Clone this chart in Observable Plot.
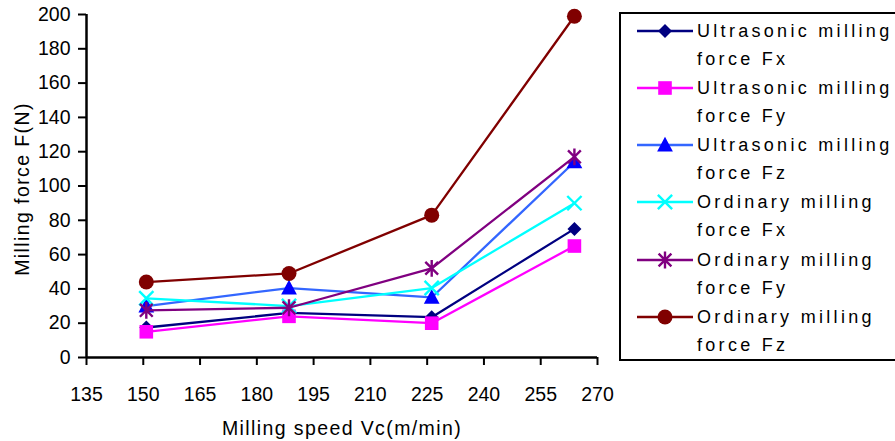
<!DOCTYPE html>
<html>
<head>
<meta charset="utf-8">
<script src="https://cdn.jsdelivr.net/npm/d3@7"></script>
<script src="https://cdn.jsdelivr.net/npm/@observablehq/plot@0.6"></script>
<style>
  html, body { margin: 0; padding: 0; background: #fff; overflow: hidden; }
  #wrap { position: relative; width: 895px; height: 441px; overflow: hidden; font-family: "Liberation Sans", Arial, sans-serif; }
  #legend { position: absolute; left: 619px; top: 12px; width: 300px; height: 345px; border: 2px solid #000; background: #fff; }
  .lg-sw { position: absolute; }
  .lg-tx { position: absolute; font-size: 18px; line-height: 28px; letter-spacing: 3.3px; color: #000; white-space: nowrap; }
</style>
</head>
<body>
<div id="wrap"><div id="chart"></div><div id="legend"></div></div>
<script>
// ---- data ----
const speeds = [150.8, 188.5, 226.2, 263.9];          // Milling speed Vc (m/min)
const ultrasonicFx = [17.5, 26, 23.5, 75];
const ultrasonicFy = [15, 24, 20, 65];
const ultrasonicFz = [30, 40.5, 35, 114];
const ordinaryFx   = [34.5, 30, 40.5, 90];
const ordinaryFy   = [27.5, 29, 52, 117];
const ordinaryFz   = [44, 49, 83, 199];
const seriesNames = [
  "Ultrasonic milling force Fx",
  "Ultrasonic milling force Fy",
  "Ultrasonic milling force Fz",
  "Ordinary milling force Fx",
  "Ordinary milling force Fy",
  "Ordinary milling force Fz"
];
const seriesValues = [ultrasonicFx, ultrasonicFy, ultrasonicFz, ordinaryFx, ordinaryFy, ordinaryFz];
const xTicks = [135, 150, 165, 180, 195, 210, 225, 240, 255, 270];
const yTicks = [0, 20, 40, 60, 80, 100, 120, 140, 160, 180, 200];
const xTitle = "Milling speed Vc(m/min)";
const yTitle = "Milling force F(N)";

// ---- styles ----
const sym = (f) => ({draw(ctx, size) { f(ctx, Math.sqrt(size / Math.PI)); }});
const symbols = {
  diamond: sym((c, r) => { c.moveTo(0, -r); c.lineTo(r, 0); c.lineTo(0, r); c.lineTo(-r, 0); c.closePath(); }),
  square: sym((c, r) => { c.moveTo(-r, -r); c.lineTo(r, -r); c.lineTo(r, r); c.lineTo(-r, r); c.closePath(); }),
  triangle: sym((c, r) => { c.moveTo(0, -r * 1.1); c.lineTo(r * 1.05, r * 0.85); c.lineTo(-r * 1.05, r * 0.85); c.closePath(); }),
  times: sym((c, r) => { const a = r * 0.95; c.moveTo(-a, -a); c.lineTo(a, a); c.moveTo(a, -a); c.lineTo(-a, a); }),
  asterisk: sym((c, r) => { const a = r * 0.8; c.moveTo(0, -r * 1.05); c.lineTo(0, r * 1.05); c.moveTo(-a, -a); c.lineTo(a, a); c.moveTo(a, -a); c.lineTo(-a, a); }),
  circle: sym((c, r) => { c.moveTo(r, 0); c.arc(0, 0, r, 0, 2 * Math.PI); c.closePath(); })
};
const styles = [
  {line: "#000080", mark: "#000080", symbol: "diamond", filled: true, r: 7},
  {line: "#FF00FF", mark: "#FF00FF", symbol: "square", filled: true, r: 6.8},
  {line: "#3366FF", mark: "#0000FF", symbol: "triangle", filled: true, r: 7.5},
  {line: "#00FFFF", mark: "#00FFFF", symbol: "times", filled: false, r: 7.5},
  {line: "#800080", mark: "#800080", symbol: "asterisk", filled: false, r: 8},
  {line: "#800000", mark: "#800000", symbol: "circle", filled: true, r: 7.5}
];

const rows = [];
seriesValues.forEach((vals, i) => vals.forEach((v, j) => rows.push({series: seriesNames[i], idx: i, x: speeds[j], y: v})));

const marks = [];
seriesNames.forEach((name, i) => {
  const d = rows.filter(r => r.idx === i);
  const st = styles[i];
  marks.push(Plot.line(d, {x: "x", y: "y", stroke: st.line, strokeWidth: 2.3}));
  marks.push(Plot.dot(d, st.filled
    ? {x: "x", y: "y", symbol: symbols[st.symbol], r: st.r, fill: st.mark, stroke: "none"}
    : {x: "x", y: "y", symbol: symbols[st.symbol], r: st.r, fill: "none", stroke: st.mark, strokeWidth: 2.4}));
});

const chart = Plot.plot({
  width: 895,
  height: 441,
  marginLeft: 86,
  marginRight: 298,
  marginTop: 14,
  marginBottom: 84,
  style: {fontFamily: "'Liberation Sans', Arial, sans-serif", fontSize: "19.5px", color: "#000", background: "#fff"},
  x: {domain: [135, 270]},
  y: {domain: [0, 200]},
  marks: [
    Plot.axisX({ticks: xTicks, tickSize: 8, tickPadding: 22, strokeWidth: 2, label: null, fontSize: 19.5}),
    Plot.axisY({ticks: yTicks, tickSize: 8, tickPadding: 8, strokeWidth: 2, label: null, fontSize: 19.5}),
    Plot.ruleY([0], {stroke: "#000", strokeWidth: 2.5}),
    Plot.ruleX([135], {stroke: "#000", strokeWidth: 2.5}),
    ...marks,
    Plot.text([xTitle], {frameAnchor: "bottom", dy: 77, textAnchor: "middle", fontSize: 19.5, fill: "#000"}),
    Plot.text([yTitle], {frameAnchor: "left", dx: -64, dy: 3, rotate: -90, textAnchor: "middle", fontSize: 19.5, fill: "#000"})
  ]
});
document.getElementById("chart").appendChild(chart);
// widen title letter spacing like the reference's font
d3.select(chart).selectAll("text").filter(function() { return this.textContent === xTitle || this.textContent === yTitle; })
  .style("letter-spacing", "1.4px");

// ---- legend ----
const legend = document.getElementById("legend");
const rowY = [17, 74, 131, 188, 246, 303]; // row centre, relative to legend box top (inner)
seriesNames.forEach((name, i) => {
  const st = styles[i];
  const p = d3.path();
  symbols[st.symbol].draw(p, Math.PI * st.r * st.r);
  const svg = d3.create("svg").attr("class", "lg-sw").attr("width", 60).attr("height", 22)
    .style("left", "15px").style("top", (rowY[i] - 11) + "px");
  svg.append("line").attr("x1", 1).attr("x2", 57).attr("y1", 11).attr("y2", 11).attr("stroke", st.line).attr("stroke-width", 2.3);
  svg.append("path").attr("d", p.toString()).attr("transform", "translate(29,11)")
    .attr("fill", st.filled ? st.mark : "none").attr("stroke", st.filled ? "none" : st.mark).attr("stroke-width", 2.4);
  legend.appendChild(svg.node());
  const words = name.split(" ");
  const tx = document.createElement("div");
  tx.className = "lg-tx";
  tx.style.left = "76px";
  tx.style.top = (rowY[i] - 14) + "px";
  tx.innerHTML = words.slice(0, 2).join(" ") + "<br>" + words.slice(2).join(" ");
  legend.appendChild(tx);
});
</script>
</body>
</html>
